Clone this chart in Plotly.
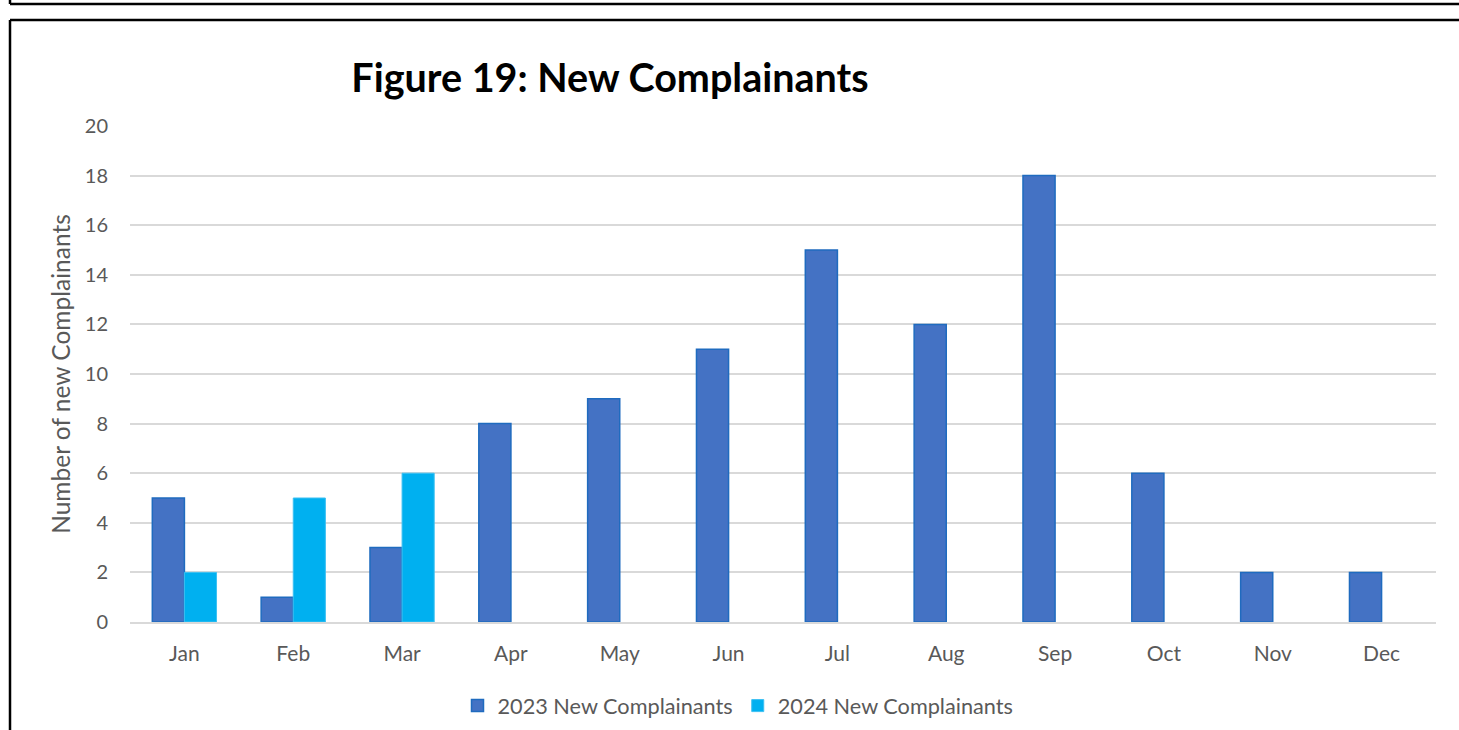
import plotly.graph_objects as go

months = ["Jan", "Feb", "Mar", "Apr", "May", "Jun", "Jul", "Aug", "Sep", "Oct", "Nov", "Dec"]
complainants_2023 = [5, 1, 3, 8, 9, 11, 15, 12, 18, 6, 2, 2]
complainants_2024 = [2, 5, 6, None, None, None, None, None, None, None, None, None]
y_ticks = [0, 2, 4, 6, 8, 10, 12, 14, 16, 18, 20]

W, H = 1459, 730
L, R, T, B = 130, 23, 126, 108
pw, ph = W - L - R, H - T - B

def px(x):
    return (x - L) / pw

def py(y):
    return (H - B - y) / ph

FONT = "Lato, Open Sans, sans-serif"
GRAY = "#595959"

fig = go.Figure()
fig.add_trace(go.Bar(
    x=months, y=complainants_2023, name="2023 New Complainants",
    marker=dict(color="#4472C4", line=dict(color="#1F6BBF", width=1.5)),
))
fig.add_trace(go.Bar(
    x=months, y=complainants_2024, name="2024 New Complainants",
    marker=dict(color="#00B0F0", line=dict(color="#3CC0F2", width=1)),
))

shapes = [
    dict(type="line", xref="paper", yref="paper", x0=px(10), x1=px(W + 5), y0=py(4), y1=py(4),
         line=dict(color="black", width=2.5)),
    dict(type="line", xref="paper", yref="paper", x0=px(10), x1=px(10), y0=py(-5), y1=py(4),
         line=dict(color="black", width=2.5)),
    dict(type="line", xref="paper", yref="paper", x0=px(10), x1=px(W + 5), y0=py(20), y1=py(20),
         line=dict(color="black", width=2.5)),
    dict(type="line", xref="paper", yref="paper", x0=px(10), x1=px(10), y0=py(20), y1=py(H + 5),
         line=dict(color="black", width=2.5)),
]

fig.update_layout(
    width=W, height=H,
    margin=dict(l=L, r=R, t=T, b=B, pad=0, autoexpand=False),
    paper_bgcolor="white", plot_bgcolor="white",
    barmode="group", bargap=0.41, bargroupgap=0,
    font=dict(family=FONT, color=GRAY, size=21),
    title=dict(text="<b>Figure 19: New Complainants</b>", xref="container", x=610 / W,
               xanchor="center", yref="container", y=1 - 78 / H, yanchor="middle",
               font=dict(family=FONT, size=39.5, color="black")),
    xaxis=dict(showgrid=False, showline=True, linecolor="#D9D9D9", linewidth=1.5,
               ticks="", ticklabelstandoff=12, tickfont=dict(size=21, color=GRAY),
               automargin=False),
    yaxis=dict(range=[0, 20], tickvals=y_ticks, showgrid=True, gridcolor="#D9D9D9",
               gridwidth=1.5, zeroline=False, showline=False, ticks="",
               ticklabelstandoff=21, tickfont=dict(size=20, color=GRAY), automargin=False,
               title=dict(text="Number of new Complainants", standoff=7,
                          font=dict(size=24.5, color=GRAY))),
    legend=dict(orientation="h", x=px(738), xanchor="center", y=py(706), yanchor="middle",
                font=dict(size=21.7, color=GRAY), itemwidth=30, tracegroupgap=0),
    showlegend=True,
    shapes=shapes,
)

fig.write_html("out.html", config={"displayModeBar": False},
               post_script="document.body.style.margin='0';")
